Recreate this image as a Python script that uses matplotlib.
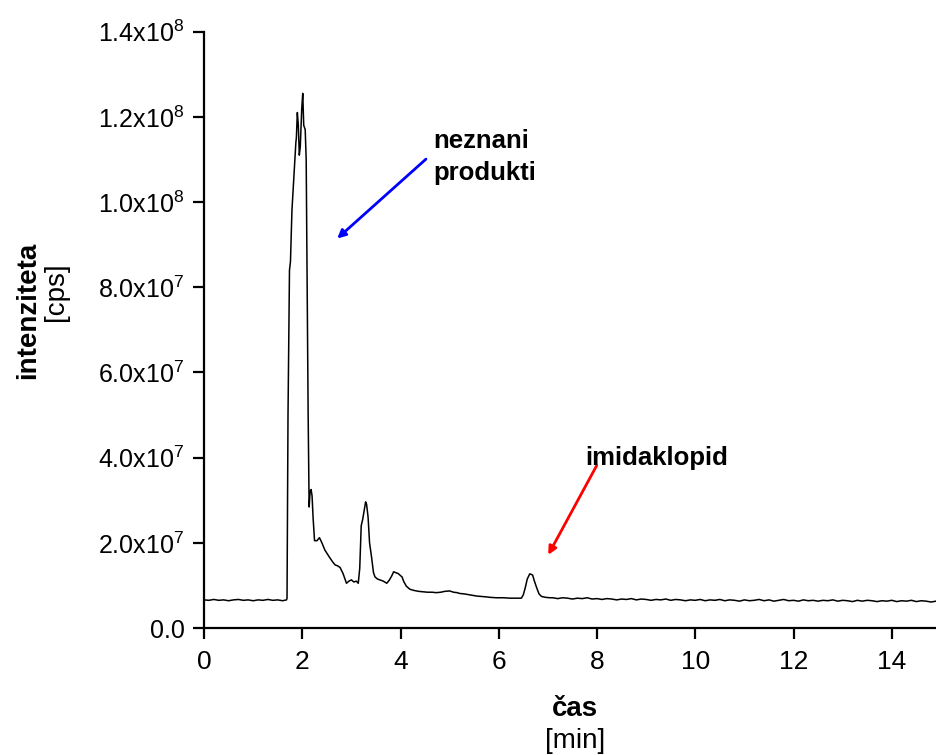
import numpy as np
import matplotlib
matplotlib.use("Agg")
import matplotlib.pyplot as plt
from matplotlib import font_manager

# Podatki kromatograma (odčitano s slike): čas [min], intenziteta [x1e7 cps]
cas_min = [
    0.0, 0.1, 0.2, 0.3, 0.4, 0.5, 0.6, 0.7, 0.8, 0.9, 1.0, 1.1, 1.2, 1.3, 1.4, 1.5, 1.6, 1.68,
    1.69, 1.71, 1.74, 1.76, 1.79, 1.82, 1.85, 1.87, 1.88, 1.90, 1.92, 1.94, 1.96, 1.99, 2.01,
    2.03, 2.06, 2.08, 2.10, 2.12, 2.14, 2.16, 2.18, 2.20, 2.22, 2.25, 2.30, 2.35, 2.40, 2.46,
    2.52, 2.56, 2.62, 2.67, 2.72, 2.77, 2.83, 2.87, 2.90, 2.95, 3.00, 3.05, 3.10, 3.14, 3.17,
    3.20, 3.23, 3.26, 3.29, 3.31, 3.34, 3.37, 3.41, 3.45, 3.48, 3.53, 3.58, 3.65, 3.72, 3.77,
    3.82, 3.86, 3.90, 3.95, 3.99, 4.03, 4.07, 4.12, 4.19, 4.28, 4.37, 4.46, 4.55, 4.64, 4.73,
    4.82, 4.90, 5.00, 5.08, 5.15, 5.21, 5.30, 5.40, 5.55, 5.65, 5.75, 5.82, 5.95, 6.10, 6.23,
    6.35, 6.46, 6.50, 6.54, 6.58, 6.63, 6.66, 6.69, 6.72, 6.77, 6.82, 6.87, 6.95, 7.04,
    7.1, 7.2, 7.3, 7.4, 7.5, 7.6, 7.7, 7.8, 7.9, 8.0,
    8.1, 8.2, 8.3, 8.4, 8.5, 8.6, 8.7, 8.8, 8.9, 9.0,
    9.1, 9.2, 9.3, 9.4, 9.5, 9.6, 9.7, 9.8, 9.9, 10.0,
    10.1, 10.2, 10.3, 10.4, 10.5, 10.6, 10.7, 10.8, 10.9, 11.0,
    11.1, 11.2, 11.3, 11.4, 11.5, 11.6, 11.7, 11.8, 11.9, 12.0,
    12.1, 12.2, 12.3, 12.4, 12.5, 12.6, 12.7, 12.8, 12.9, 13.0,
    13.1, 13.2, 13.3, 13.4, 13.5, 13.6, 13.7, 13.8, 13.9, 14.0,
    14.1, 14.2, 14.3, 14.4, 14.5, 14.6, 14.7, 14.8, 14.9,
]
intenziteta_e7 = [
    0.66, 0.65, 0.67, 0.65, 0.66, 0.64, 0.66, 0.67, 0.65, 0.66, 0.64, 0.66, 0.65, 0.67, 0.65, 0.66, 0.64, 0.66,
    0.70, 5.0, 8.4, 8.6, 9.8, 10.4, 11.0, 11.4, 11.5, 12.1, 11.8, 11.1, 11.3, 12.2, 12.55,
    11.8, 11.7, 11.0, 8.0, 5.0, 2.84, 3.2, 3.25, 3.1, 2.6, 2.05, 2.05, 2.12, 2.0, 1.83,
    1.72, 1.65, 1.55, 1.48, 1.46, 1.42, 1.28, 1.15, 1.05, 1.10, 1.13, 1.08, 1.10, 1.05, 1.4,
    2.4, 2.55, 2.75, 2.96, 2.9, 2.6, 2.0, 1.67, 1.3, 1.2, 1.15, 1.13, 1.10, 1.05, 1.12,
    1.22, 1.32, 1.30, 1.28, 1.24, 1.20, 1.08, 0.98, 0.91, 0.88, 0.86, 0.85, 0.84, 0.84, 0.83,
    0.84, 0.86, 0.87, 0.84, 0.83, 0.81, 0.80, 0.78, 0.75, 0.74, 0.73, 0.72, 0.71, 0.71, 0.70,
    0.70, 0.70, 0.78, 0.95, 1.15, 1.27, 1.26, 1.24, 1.12, 0.95, 0.80, 0.74, 0.72, 0.71,
    0.71, 0.69, 0.71, 0.70, 0.68, 0.70, 0.69, 0.71, 0.68, 0.69,
    0.67, 0.69, 0.68, 0.66, 0.68, 0.67, 0.69, 0.66, 0.68, 0.67,
    0.65, 0.67, 0.66, 0.68, 0.65, 0.67, 0.66, 0.64, 0.66, 0.65,
    0.67, 0.64, 0.66, 0.65, 0.67, 0.64, 0.66, 0.65, 0.63, 0.66,
    0.64, 0.65, 0.67, 0.64, 0.66, 0.63, 0.65, 0.67, 0.64, 0.65,
    0.63, 0.66, 0.64, 0.65, 0.63, 0.65, 0.64, 0.66, 0.63, 0.65,
    0.64, 0.62, 0.65, 0.63, 0.65, 0.64, 0.62, 0.64, 0.63, 0.65,
    0.62, 0.64, 0.63, 0.65, 0.62, 0.64, 0.63, 0.61, 0.63,
]

y_ticks = [0, 2e7, 4e7, 6e7, 8e7, 1.0e8, 1.2e8, 1.4e8]
y_tick_labels = ["0.0", "2.0x10$^{7}$", "4.0x10$^{7}$", "6.0x10$^{7}$",
                 "8.0x10$^{7}$", "1.0x10$^{8}$", "1.2x10$^{8}$", "1.4x10$^{8}$"]
x_ticks = [0, 2, 4, 6, 8, 10, 12, 14]

# pisave
plt.rcParams['font.family'] = ['Liberation Sans', 'DejaVu Sans']
plt.rcParams['mathtext.fontset'] = 'custom'
plt.rcParams['mathtext.rm'] = 'Liberation Sans'
try:
    font_manager.findfont('Liberation Sans Narrow', fallback_to_default=False)
    narrow = 'Liberation Sans Narrow'
except Exception:
    narrow = 'Liberation Sans'

t = np.array(cas_min)
y = np.array(intenziteta_e7) * 1e7

fig = plt.figure(figsize=(9.36, 7.55), dpi=100)
ax = fig.add_axes([204/936, 127/755, 1 - 204/936, (628 - 31.6)/755])

ax.plot(t, y, color='black', lw=1.1)

ax.set_xlim(0, 14.9)
ax.set_ylim(0, 1.4e8)
ax.set_xticks(x_ticks)
ax.set_xticklabels([str(v) for v in x_ticks], fontfamily=narrow, fontsize=19)
ax.set_yticks(y_ticks)
ax.set_yticklabels(y_tick_labels, fontsize=18)

for s in ['top', 'right']:
    ax.spines[s].set_visible(False)
for s in ['left', 'bottom']:
    ax.spines[s].set_linewidth(1.6)
ax.tick_params(axis='both', direction='out', length=8, width=1.6)
ax.tick_params(axis='y', pad=6)
ax.tick_params(axis='x', pad=8)

# oznake osi
fig.text(28/936, 1 - 310/755, 'intenziteta', rotation=90, fontsize=20,
         fontweight='bold', ha='center', va='center')
fig.text(56/936, 1 - 292/755, '[cps]', rotation=90, fontsize=20,
         ha='center', va='center')
fig.text(575/936, 1 - 709/755, 'čas', fontsize=20, fontweight='bold',
         fontfamily=narrow, ha='center', va='center')
fig.text(575/936, 1 - 741/755, '[min]', fontsize=20, fontfamily=narrow,
         ha='center', va='center')

# puščice in napisi
ax.annotate('', xy=(2.67, 9.1e7), xytext=(4.56, 1.105e8),
            arrowprops=dict(arrowstyle='-|>', color='#0000ff', lw=2.0,
                            mutation_scale=12))
ax.text(4.66, 1.172e8, 'neznani\nprodukti', fontsize=18.5, fontweight='bold',
        ha='left', va='top', linespacing=1.45)
ax.annotate('', xy=(6.98, 1.66e7), xytext=(8.02, 3.87e7),
            arrowprops=dict(arrowstyle='-|>', color='#ff0000', lw=2.0,
                            mutation_scale=12))
ax.text(7.77, 4.0e7, 'imidaklopid', fontsize=18.5, fontweight='bold',
        ha='left', va='center')

plt.savefig('out.png', dpi=100)
